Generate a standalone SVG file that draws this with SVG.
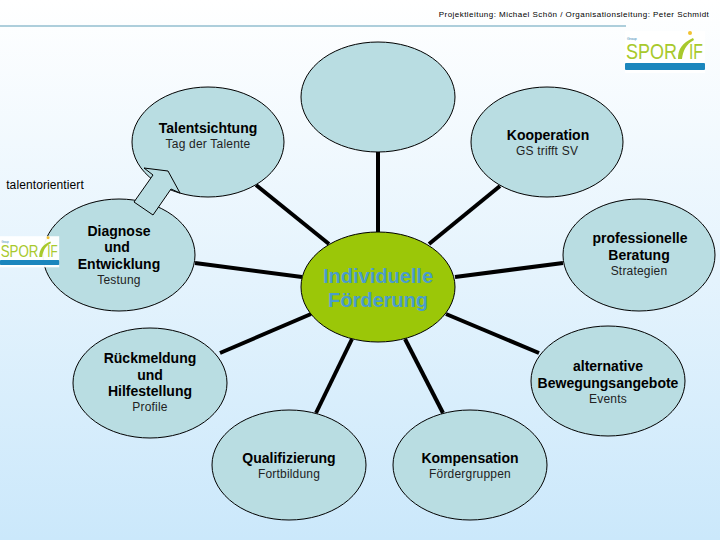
<svg xmlns="http://www.w3.org/2000/svg" width="720" height="540" viewBox="0 0 720 540">
<style>
text{font-family:"Liberation Sans",Arial,sans-serif;text-anchor:middle;fill:#000}
.n{fill:#b9dde2;stroke:#000;stroke-width:1}
.t{font-size:14px;font-weight:bold}
.s{font-size:12px;letter-spacing:.2px;fill:#222}
.c line{stroke:#000;stroke-width:4}
.lg{font-size:22px;text-anchor:start;fill:#a8c92c}
.ctr{font-size:20px;font-weight:bold;fill:#4a9ccb}
</style>
<defs>
<linearGradient id="bg" x1="0" y1="0" x2="0" y2="1"><stop offset="0" stop-color="#fff"/><stop offset="1" stop-color="#cbe8fb"/></linearGradient>
<g id="logo">
<rect x="0" y="3" width="80" height="42" fill="#fff" fill-opacity=".95"/>
<text x="2" y="12" style="font-size:3.5px;text-anchor:start;fill:#2f7fb0">Group</text>
<text class="lg" x="1" y="31" textLength="51" lengthAdjust="spacingAndGlyphs">SPOR</text>
<text class="lg" x="64" y="31" textLength="14" lengthAdjust="spacingAndGlyphs">IF</text>
<path d="M53 31C53 21 57 15 68 10L69 12C61 16 58 23 57 31Z" fill="#a8c92c"/>
<circle cx="65" cy="5" r="2" fill="#f2c230"/>
<rect x="0" y="35" width="80" height="7" rx="1" fill="#1b86bd"/>
</g>
</defs>
<rect width="720" height="540" fill="url(#bg)"/>
<g id="header">
<text x="574" y="17" style="font-size:8px;letter-spacing:.46px">Projektleitung: Michael Schön / Organisationsleitung: Peter Schmidt</text>
<line x1="0" y1="26" x2="626" y2="26" stroke="#5f9fb8" stroke-width="1"/>
</g>
<g class="c" id="connectors">
<line x1="378" y1="151" x2="378" y2="232"/>
<line x1="256" y1="185" x2="329" y2="244"/>
<line x1="500" y1="186" x2="429" y2="244"/>
<line x1="195" y1="263" x2="302" y2="277"/>
<line x1="563" y1="263" x2="455" y2="277"/>
<line x1="220" y1="353" x2="311" y2="314"/>
<line x1="539" y1="353" x2="446" y2="314"/>
<line x1="316" y1="413" x2="352" y2="339"/>
<line x1="443" y1="413" x2="405" y2="339"/>
</g>
<g id="n-top"><ellipse class="n" cx="378" cy="97" rx="77" ry="55"/></g>
<g id="n-talent"><ellipse class="n" cx="208" cy="142" rx="76" ry="55"/>
<text class="t" x="208" y="133">Talentsichtung</text><text class="s" x="208" y="148">Tag der Talente</text></g>
<g id="n-koop"><ellipse class="n" cx="547" cy="142" rx="76" ry="55"/>
<text class="t" x="548" y="140">Kooperation</text><text class="s" x="547" y="155">GS trifft SV</text></g>
<g id="n-diag"><ellipse class="n" cx="119" cy="255" rx="76" ry="56"/>
<text class="t" x="119" y="236">Diagnose</text><text class="t" x="117" y="252">und</text><text class="t" x="119" y="269">Entwicklung</text><text class="s" x="119" y="284">Testung</text></g>
<g id="n-prof"><ellipse class="n" cx="639" cy="255" rx="76" ry="56"/>
<text class="t" x="640" y="243">professionelle</text><text class="t" x="639" y="260">Beratung</text><text class="s" x="639" y="275">Strategien</text></g>
<g id="n-rueck"><ellipse class="n" cx="150" cy="383" rx="77" ry="55"/>
<text class="t" x="150" y="363">Rückmeldung</text><text class="t" x="150" y="380">und</text><text class="t" x="150" y="396">Hilfestellung</text><text class="s" x="150" y="411">Profile</text></g>
<g id="n-alt"><ellipse class="n" cx="608" cy="381" rx="77" ry="55"/>
<text class="t" x="608" y="371">alternative</text><text class="t" x="608" y="388">Bewegungsangebote</text><text class="s" x="608" y="403">Events</text></g>
<g id="n-quali"><ellipse class="n" cx="289" cy="465" rx="77" ry="55"/>
<text class="t" x="289" y="463">Qualifizierung</text><text class="s" x="289" y="478">Fortbildung</text></g>
<g id="n-komp"><ellipse class="n" cx="470" cy="465" rx="77" ry="55"/>
<text class="t" x="470" y="463">Kompensation</text><text class="s" x="470" y="478">Fördergruppen</text></g>
<g id="n-center"><ellipse cx="378" cy="287" rx="77" ry="55" fill="#9bc708" stroke="#000" stroke-width="1"/>
<text class="ctr" x="378" y="283">Individuelle</text>
<text class="ctr" x="378" y="307">Förderung</text></g>
<g id="arrow"><path d="M134 202L153 175L144 168L168 171L180 193L171 189L153 215Z" fill="#b9dde2" stroke="#000" stroke-width="1"/></g>
<g id="label-talentorientiert"><text x="45" y="189" style="font-size:12px;letter-spacing:.1px">talentorientiert</text></g>
<use href="#logo" x="625" y="28"/>
<g transform="translate(0,234) scale(.74)"><use href="#logo"/></g>
</svg>
